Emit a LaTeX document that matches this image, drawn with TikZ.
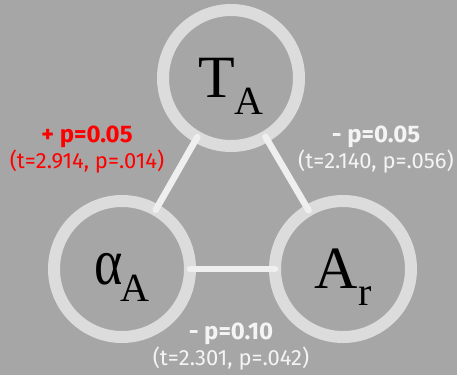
\documentclass[tikz,border=0pt]{standalone}
\usepackage{fontspec}
\setmainfont{Liberation Serif}
\newfontfamily\statfont{Fira Sans}
\definecolor{bgcol}{HTML}{A6A6A6}
\definecolor{ringcol}{HTML}{DCDCDC}
\definecolor{linkcol}{HTML}{EFEFEF}
\definecolor{statcol}{HTML}{F4F4F4}
\definecolor{sigcol}{HTML}{FF0000}
\newcommand\lowsub[1]{\raisebox{-17pt}{\fontsize{40}{40}\selectfont #1}}

\begin{document}
\begin{tikzpicture}[
    x=1pt,
    y=-1pt,
    line join=round,
    line cap=round,
    var/.style={circle, draw=ringcol, line width=12pt, minimum size=136pt,
        inner sep=0pt, outer sep=0pt, text depth=0pt,
        font=\fontsize{60}{60}\selectfont},
    link/.style={draw=linkcol, line width=6.5pt},
    stat/.style={align=center, text=statcol,
        font=\statfont\fontsize{22}{26}\selectfont}
]
    % 背景
    \fill[bgcol] (0,0) rectangle (457,375);
    \useasboundingbox (0,0) rectangle (457,375);

    % 三个变量
    \node[var] (TA) at (231,78) {T\lowsub{A}};
    \node[var] (alA) at (122,269) {\scalebox{0.9}[1.1]{α}\kern-2pt\lowsub{A}};
    \node[var] (Ar) at (343,269) {A\lowsub{r}};

    % 连线
    \draw[link] (TA) -- (alA);
    \draw[link] (TA) -- (Ar);
    \draw[link] (alA) -- (Ar);

    % 检验结果
    \node[stat, text=sigcol] (sTal) at (87,150)
        {{\bfseries\fontsize{24}{26}\selectfont + p=0.05}\\(t=2.914, p=.014)};
    \node[stat] (sTAr) at (376,150)
        {{\bfseries\fontsize{24}{26}\selectfont - p=0.05}\\(t=2.140, p=.056)};
    \node[stat] (salAr) at (231,347)
        {{\bfseries\fontsize{24}{26}\selectfont - p=0.10}\\(t=2.301, p=.042)};

\end{tikzpicture}
\end{document}
